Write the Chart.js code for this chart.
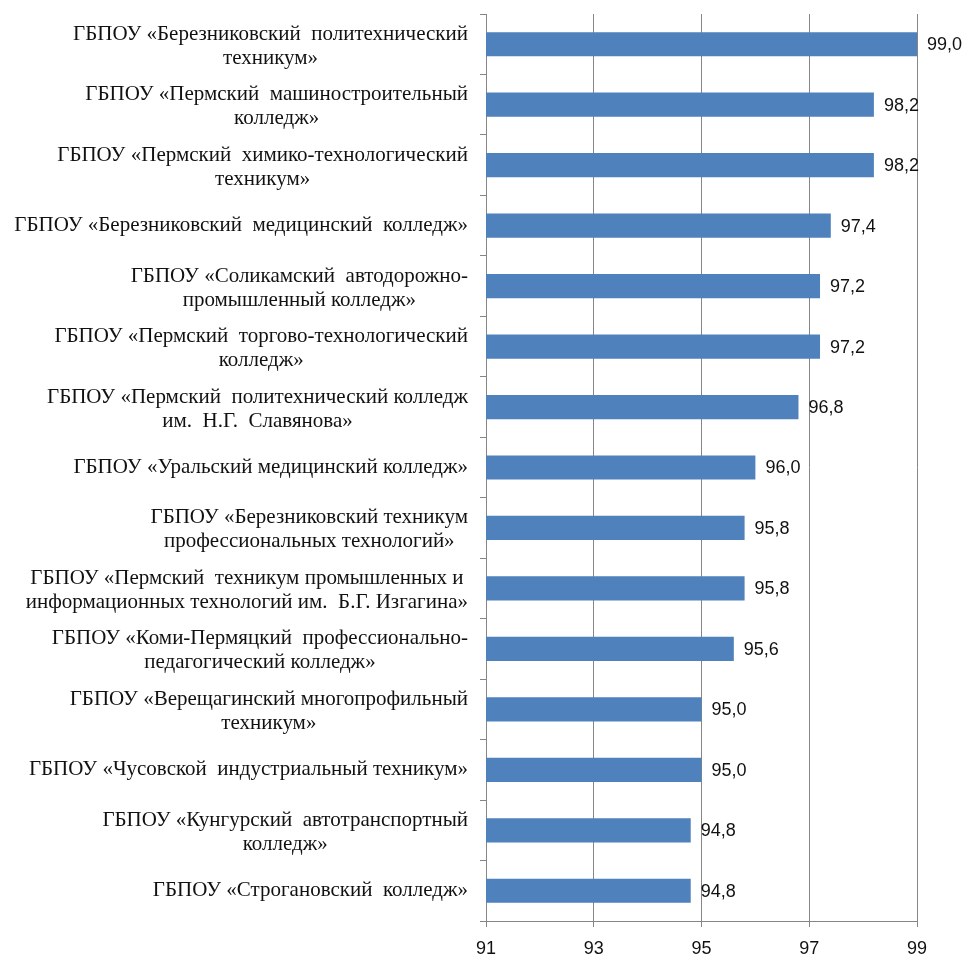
<!DOCTYPE html>
<html><head><meta charset="utf-8">
<script src="https://cdn.jsdelivr.net/npm/chart.js@4.4.1/dist/chart.umd.min.js"></script>
<style>html,body{margin:0;padding:0;background:#fff}#wrap{width:967px;height:958px;position:relative}</style>
</head><body><div id="wrap"><canvas id="c"></canvas></div>
<script>
const categories = [
  ["ГБПОУ «Березниковский  политехнический", "техникум»"],
  ["ГБПОУ «Пермский  машиностроительный", "колледж»"],
  ["ГБПОУ «Пермский  химико-технологический", "техникум»"],
  ["ГБПОУ «Березниковский  медицинский  колледж»"],
  ["ГБПОУ «Соликамский  автодорожно-", "промышленный колледж»"],
  ["ГБПОУ «Пермский  торгово-технологический", "колледж»"],
  ["ГБПОУ «Пермский  политехнический колледж", "им.  Н.Г.  Славянова»"],
  ["ГБПОУ «Уральский медицинский колледж»"],
  ["ГБПОУ «Березниковский техникум", "профессиональных технологий»"],
  ["ГБПОУ «Пермский  техникум промышленных и", "информационных технологий им.  Б.Г. Изгагина»"],
  ["ГБПОУ «Коми-Пермяцкий  профессионально-", "педагогический колледж»"],
  ["ГБПОУ «Верещагинский многопрофильный", "техникум»"],
  ["ГБПОУ «Чусовской  индустриальный техникум»"],
  ["ГБПОУ «Кунгурский  автотранспортный", "колледж»"],
  ["ГБПОУ «Строгановский  колледж»"]
];
const values = [99.0, 98.2, 98.2, 97.4, 97.2, 97.2, 96.8, 96.0, 95.8, 95.8, 95.6, 95.0, 95.0, 94.8, 94.8];
const xTicks = [91, 93, 95, 97, 99];

const SERIF = '"Liberation Serif","Times New Roman",serif';
const SANS = '"Liberation Sans",Arial,sans-serif';

const catLabels = {
  id: 'catLabels',
  afterDraw(chart) {
    const ctx = chart.ctx, y = chart.scales.y;
    ctx.save();
    ctx.font = '21px ' + SERIF;
    ctx.fillStyle = '#111';
    ctx.textAlign = 'center';
    ctx.textBaseline = 'middle';
    const right = 468, lh = 24;
    categories.forEach((lines, i) => {
      const cy = y.getPixelForValue(i) + (lines.length > 1 ? 2 : 0);
      const w = Math.max(...lines.map(l => ctx.measureText(l).width));
      const cx = right - w / 2;
      const y0 = cy - (lines.length - 1) * lh / 2;
      lines.forEach((l, k) => ctx.fillText(l, cx, y0 + k * lh));
    });
    ctx.restore();
  }
};
const valueLabels = {
  id: 'valueLabels',
  afterDatasetsDraw(chart) {
    const ctx = chart.ctx;
    const meta = chart.getDatasetMeta(0);
    ctx.save();
    ctx.font = '18px ' + SANS;
    ctx.fillStyle = '#111';
    ctx.textAlign = 'left';
    ctx.textBaseline = 'middle';
    meta.data.forEach((bar, i) => {
      ctx.fillText(values[i].toFixed(1).replace('.', ','), bar.x + 10, bar.y + 1);
    });
    ctx.restore();
  }
};

new Chart(document.getElementById('c'), {
  type: 'bar',
  data: {
    labels: categories.map(c => c.join(' ')),
    datasets: [{
      data: values,
      backgroundColor: '#4F81BD',
      borderWidth: 0,
      barPercentage: 0.4,
      categoryPercentage: 1.0
    }]
  },
  options: {
    indexAxis: 'y',
    responsive: true,
    maintainAspectRatio: false,
    animation: false,
    layout: { padding: { top: 14, right: 50, left: 0, bottom: 0 } },
    plugins: { legend: { display: false }, tooltip: { enabled: false } },
    scales: {
      x: {
        min: 91, max: 99,
        afterBuildTicks(s) { s.ticks = xTicks.map(v => ({ value: v })); },
        afterFit(s) { s.height = 37; },
        border: { display: true, color: '#868686', width: 1 },
        grid: { color: '#868686', lineWidth: 1, drawTicks: true, tickLength: 6 },
        ticks: { font: { family: SANS, size: 18 }, color: '#111', padding: 11, maxRotation: 0 }
      },
      y: {
        afterFit(s) { s.width = 486; },
        border: { display: true, color: '#868686', width: 1 },
        grid: { drawOnChartArea: false, drawTicks: true, tickLength: 6, color: '#868686', offset: true },
        ticks: { display: false }
      }
    }
  },
  plugins: [catLabels, valueLabels]
});
</script></body></html>
